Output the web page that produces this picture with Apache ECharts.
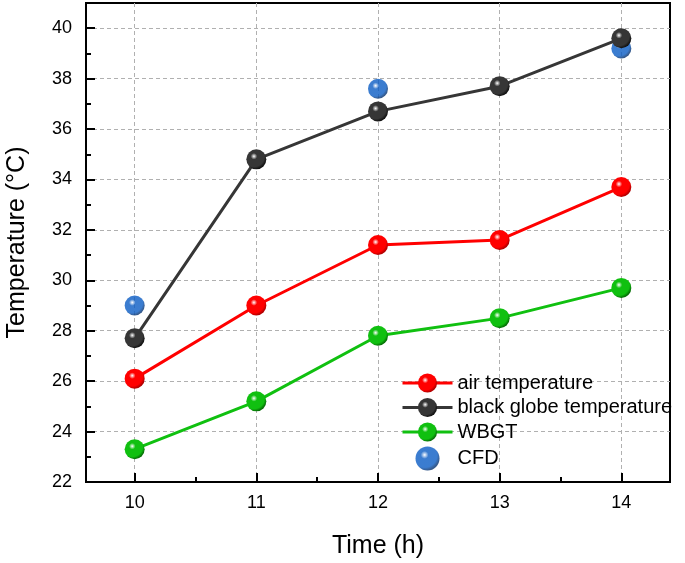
<!DOCTYPE html>
<html><head><meta charset="utf-8">
<script src="https://cdn.jsdelivr.net/npm/echarts@6/dist/echarts.min.js"></script>
<style>html,body{margin:0;padding:0;background:#fff}#c{width:685px;height:563px}</style>
</head><body><div id="c"></div>
<script>
const hours = [10, 11, 12, 13, 14];
const airTemp = [26.1, 29.0, 31.4, 31.6, 33.7];
const globeTemp = [27.7, 34.8, 36.7, 37.7, 39.6];
const wbgt = [23.3, 25.2, 27.8, 28.5, 29.7];
const cfdHours = [10, 12, 14];
const cfd = [29.0, 37.6, 39.2];
const xMajor = [10, 11, 12, 13, 14];
const xMinor = [10.5, 11.5, 12.5, 13.5];
const yMajor = [22, 24, 26, 28, 30, 32, 34, 36, 38, 40];
const yMinor = [23, 25, 27, 29, 31, 33, 35, 37, 39];

function sphere(c, dark) {
  return {type: 'radial', x: 0.38, y: 0.35, r: 0.65,
    colorStops: [{offset: 0, color: '#ffffff'}, {offset: 0.25, color: c}, {offset: 0.8, color: c}, {offset: 1, color: dark}]};
}
const font = 'Liberation Sans, Arial, sans-serif';
const chart = echarts.init(document.getElementById('c'));
const pair = (xs, ys) => xs.map((x, i) => [x, ys[i]]);
function lineSeries(name, data, c, dark) {
  return {name, type: 'line', data: pair(hours, data), symbol: 'circle', symbolSize: 20,
    lineStyle: {color: c, width: 3}, itemStyle: {color: sphere(c, dark)}, color: c, z: 3};
}
chart.setOption({
  animation: false,
  grid: {left: 86, right: 15, top: 3, bottom: 81, show: true, borderColor: '#000', borderWidth: 2,
    containLabel: false, outerBoundsMode: 'none'},
  legend: {orient: 'vertical', left: 396, top: 368, itemWidth: 50, itemHeight: 24, itemGap: 4.5,
    lineStyle: {width: 3},
    textStyle: {fontFamily: font, fontSize: 20, color: '#000'},
    data: ['air temperature', 'black globe temperature', 'WBGT', 'CFD']},
  xAxis: [{type: 'value', min: 9.6, max: 14.4, name: 'Time (h)', nameLocation: 'middle', nameGap: 52,
      nameTextStyle: {fontFamily: font, fontSize: 25, color: '#000'},
      axisLine: {lineStyle: {color: '#000', width: 2}},
      axisTick: {inside: true, length: 9, customValues: xMajor, lineStyle: {color: '#000', width: 2}},
      axisLabel: {customValues: xMajor, fontFamily: font, fontSize: 18, color: '#000', margin: 12},
      splitLine: {show: true, lineStyle: {color: '#b0b0b0', type: [4, 3], width: 1}}},
    {type: 'value', min: 9.6, max: 14.4, position: 'bottom',
      axisLine: {show: false},
      axisTick: {inside: true, length: 5, customValues: xMinor, lineStyle: {color: '#000', width: 2}},
      axisLabel: {show: false}, splitLine: {show: false}}],
  yAxis: [{type: 'value', min: 22, max: 41, name: 'Temperature (°C)', nameLocation: 'middle', nameGap: 56,
      nameTextStyle: {fontFamily: font, fontSize: 25, color: '#000'},
      axisLine: {show: true, lineStyle: {color: '#000', width: 2}},
      axisTick: {show: true, inside: true, length: 9, customValues: yMajor, lineStyle: {color: '#000', width: 2}},
      axisLabel: {customValues: yMajor, fontFamily: font, fontSize: 18, color: '#000', margin: 14},
      splitLine: {show: true, lineStyle: {color: '#b0b0b0', type: [4, 3], width: 1}}},
    {type: 'value', min: 22, max: 41, position: 'left',
      axisLine: {show: false},
      axisTick: {show: true, inside: true, length: 5, customValues: yMinor, lineStyle: {color: '#000', width: 2}},
      axisLabel: {show: false}, splitLine: {show: false}}],
  series: [
    lineSeries('air temperature', airTemp, '#ff0000', '#b00000'),
    lineSeries('black globe temperature', globeTemp, '#363636', '#111111'),
    lineSeries('WBGT', wbgt, '#10c010', '#067006'),
    {name: 'CFD', type: 'scatter', data: pair(cfdHours, cfd), symbol: 'circle', symbolSize: 20,
      itemStyle: {color: sphere('#0a5cc4', '#03306e')}, color: '#0a5cc4', z: 2}
  ]
});
</script></body></html>
